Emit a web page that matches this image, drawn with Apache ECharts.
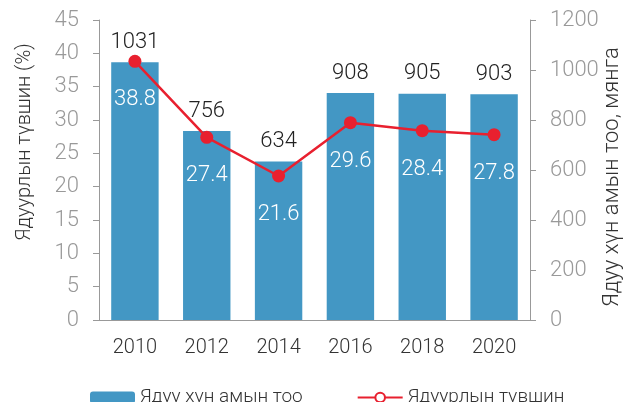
<!DOCTYPE html>
<html>
<head>
<meta charset="utf-8">
<script src="https://cdn.jsdelivr.net/npm/echarts@6/dist/echarts.min.js"></script>
<style>
  html, body { margin: 0; padding: 0; background: #fff; }
  #chart { width: 625px; height: 402px; }
</style>
</head>
<body>
<div id="chart"></div>
<script>
// он
const years = ['2010', '2012', '2014', '2016', '2018', '2020']
// ядуу хүн амын тоо, мянга
const poorPeople = [1031, 756, 634, 908, 905, 903]
// ядуурлын түвшин, %
const povertyRate = [38.8, 27.4, 21.6, 29.6, 28.4, 27.8]

const barColor = '#4397c4'
const lineColor = '#e8202f'
const font = 'Roboto'

const chart = echarts.init(document.getElementById('chart'))
chart.setOption({
  textStyle: { fontFamily: font, fontWeight: 300 },
  animation: false,
  grid: { left: 99, right: 95, top: 20, bottom: 82, outerBoundsMode: 'none' },
  legend: {
    left: 85,
    top: 383,
    itemWidth: 45,
    itemHeight: 12,
    itemGap: 54,
    textStyle: { fontSize: 19, color: '#333', fontFamily: font, fontWeight: 300 },
    data: [
      { name: 'Ядуу хүн амын тоо' },
      { name: 'Ядуурлын түвшин', itemStyle: { color: '#fff', borderColor: lineColor, borderWidth: 2 } }
    ]
  },
  xAxis: {
    type: 'category',
    data: years,
    axisLine: { lineStyle: { color: '#999' } },
    axisTick: { lineStyle: { color: '#999' }, length: 6 },
    axisLabel: { fontSize: 20, color: '#333', margin: 18, fontWeight: 300 }
  },
  yAxis: [
    {
      type: 'value',
      min: 0, max: 45, interval: 5,
      name: 'Ядуурлын түвшин (%)',
      nameLocation: 'middle',
      nameGap: 64,
      nameMoveOverlap: false,
      nameTextStyle: { fontSize: 20, color: '#333', fontWeight: 300, padding: [0, 0, 0, 56] },
      axisLine: { show: true, lineStyle: { color: '#999' } },
      axisTick: { show: true, lineStyle: { color: '#999' }, length: 6 },
      axisLabel: { fontSize: 22, color: '#999', margin: 20, fontWeight: 300 },
      splitLine: { show: false }
    },
    {
      type: 'value',
      min: 0, max: 1200, interval: 200,
      name: 'Ядуу хүн амын тоо, мянга',
      nameLocation: 'middle',
      nameGap: 71,
      nameMoveOverlap: false,
      nameTextStyle: { fontSize: 22, color: '#333', fontWeight: 300, padding: [0, 14, 0, 0] },
      axisLine: { show: true, lineStyle: { color: '#999' } },
      axisTick: { show: true, lineStyle: { color: '#999' }, length: 6 },
      axisLabel: { fontSize: 22, color: '#999', margin: 20, fontWeight: 300, formatter: v => String(v) },
      splitLine: { show: false }
    }
  ],
  series: [
    {
      name: 'Ядуу хүн амын тоо',
      type: 'bar',
      yAxisIndex: 1,
      data: poorPeople,
      barWidth: '66%',
      itemStyle: { color: barColor },
      label: { show: true, position: 'top', distance: 9, fontSize: 22, color: '#222', fontWeight: 300 }
    },
    {
      name: 'Ядуурлын түвшин',
      type: 'line',
      yAxisIndex: 0,
      data: povertyRate,
      symbol: 'circle',
      symbolSize: 13,
      itemStyle: { color: lineColor },
      lineStyle: { color: lineColor, width: 2.5 },
      label: { show: true, position: 'bottom', distance: 21, fontSize: 22, color: '#fff', fontWeight: 300 },
      z: 5
    }
  ]
})
</script>
</body>
</html>
